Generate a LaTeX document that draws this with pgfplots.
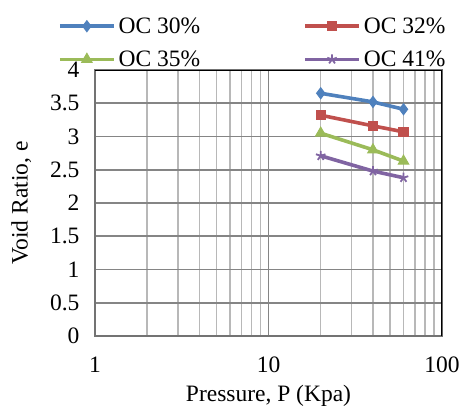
\documentclass[border=0pt]{standalone}
\usepackage{pgfplots}
\pgfplotsset{compat=1.18}
\usepackage{fontspec}
\setmainfont{Liberation Serif}
\definecolor{c1}{HTML}{4F81BD}
\definecolor{c2}{HTML}{C0504D}
\definecolor{c3}{HTML}{9BBB59}
\definecolor{c4}{HTML}{8064A2}
\begin{document}
\begin{tikzpicture}[font=\fontsize{23.5bp}{27bp}\selectfont]
\path[use as bounding box] (-95bp,-79bp) rectangle (364bp,336bp);
\begin{axis}[
  at={(0,0)}, anchor=south west,
  scale only axis, width=347bp, height=266bp,
  xmode=log, xmin=1, xmax=100, ymin=0, ymax=4,
  xtick={1,10,100}, xticklabels={1,10,100},
  minor xtick={2,3,4,5,6,7,8,9,20,30,40,50,60,70,80,90},
  ytick={0,0.5,...,4},
  yticklabels={0,0.5,1,1.5,2,2.5,3,3.5,4},
  xmajorgrids=true, xminorgrids=true, ymajorgrids=true,
  major grid style={draw=black!48, line width=1.5bp},
  minor grid style={draw=black!28, line width=1.5bp},
  y grid style={draw=black!48, line width=1.8bp},
  major tick length=0pt, minor tick length=0pt,
  axis line style={black!55, line width=1.5bp},
  /pgf/number format/assume math mode=true,
  xticklabel style={yshift=-17bp},
  yticklabel style={xshift=-12bp},
  xlabel={Pressure, P (Kpa)},
  ylabel={Void Ratio, e},
  xlabel style={yshift=-6bp},
  ylabel style={yshift=12bp},
  legend columns=2,
  legend style={draw=none, fill=none, at={(-0.107,1.205)}, anchor=north west,
    inner sep=0pt, row sep=12bp, font=\fontsize{23.5bp}{27bp}\selectfont,
    /tikz/every even column/.append style={column sep=100bp},
    nodes={inner xsep=3bp}},
  legend image code/.code={
    \draw[mark repeat=2,mark phase=2] plot coordinates {(0bp,0bp) (27bp,0bp) (54bp,0bp)};},
  every axis plot/.append style={line width=3.6bp},
]
\addplot[c1, mark=diamond*, mark size=5.5bp, mark options={line width=1bp}] coordinates {(20,3.65) (40,3.52) (60,3.41)};
\addlegendentry{OC 30\%}
\addplot[c2, mark=square*, mark size=4.7bp, mark options={line width=1bp}] coordinates {(20,3.32) (40,3.16) (60,3.07)};
\addlegendentry{OC 32\%}
\addplot[c3, mark=triangle*, mark size=6bp, mark options={line width=1bp}] coordinates {(20,3.05) (40,2.80) (60,2.63)};
\addlegendentry{OC 35\%}
\addplot[c4, mark=star, mark size=5bp, mark options={line width=1.8bp}] coordinates {(20,2.71) (40,2.48) (60,2.38)};
\addlegendentry{OC 41\%}
\draw[black, line width=1.5bp] (rel axis cs:0,1) -- (rel axis cs:1,1) -- (rel axis cs:1,0);
\end{axis}
\end{tikzpicture}
\end{document}
